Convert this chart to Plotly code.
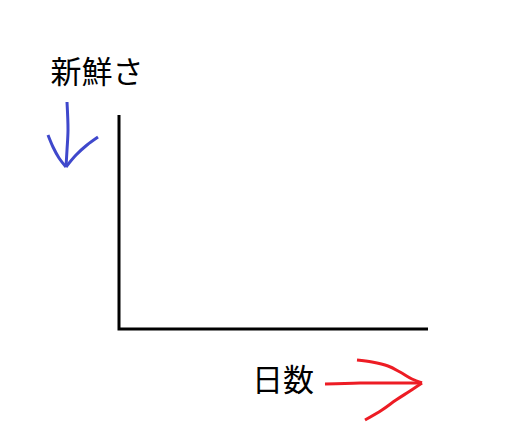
import plotly.graph_objects as go

# sketch canvas, in pixel units of the 525x440 drawing
axis_x = [119, 119, 428]
axis_y = [115, 329, 329]

labels = ["新鮮さ", "日数"]
label_x = [97, 283]
label_y = [75, 383]

# hand-drawn blue arrow (pointing down)
blue_shaft_x = [67, 68, 67, 66]
blue_shaft_y = [102, 130, 150, 167]
blue_left_x = [48, 53, 59, 66]
blue_left_y = [135, 147, 158, 167]
blue_right_x = [98, 87, 76, 66]
blue_right_y = [137, 145, 155, 167]

# hand-drawn red arrow (pointing right)
red_shaft_x = [325, 360, 395, 422]
red_shaft_y = [384, 383, 383, 383]
red_upper_x = [357, 372, 388, 400, 412, 422]
red_upper_y = [360, 362, 366, 372, 379, 383]
red_lower_x = [422, 410, 396, 382, 365]
red_lower_y = [383, 391, 400, 410, 420]

# the page has an 8px body margin, shift the ranges to cancel it
offset = 8

fig = go.Figure()

fig.add_trace(go.Scatter(x=axis_x, y=axis_y, mode="lines",
                         line=dict(color="black", width=3)))

for xs, ys in [(blue_shaft_x, blue_shaft_y), (blue_left_x, blue_left_y),
               (blue_right_x, blue_right_y)]:
    fig.add_trace(go.Scatter(x=xs, y=ys, mode="lines",
                             line=dict(color="#3f48cc", width=3, shape="spline")))

for xs, ys in [(red_shaft_x, red_shaft_y), (red_upper_x, red_upper_y),
               (red_lower_x, red_lower_y)]:
    fig.add_trace(go.Scatter(x=xs, y=ys, mode="lines",
                             line=dict(color="#ed1c24", width=3, shape="spline")))

fig.add_trace(go.Scatter(x=label_x, y=label_y, mode="text", text=labels,
                         textfont=dict(family="Noto Sans CJK JP", size=31, color="black")))

fig.update_layout(
    width=525, height=440,
    margin=dict(l=0, r=0, t=0, b=0),
    paper_bgcolor="white", plot_bgcolor="white",
    showlegend=False,
    xaxis=dict(range=[offset, 525 + offset], visible=False, fixedrange=True),
    yaxis=dict(range=[440 + offset, offset], visible=False, fixedrange=True),
)

fig.write_html("out.html")
